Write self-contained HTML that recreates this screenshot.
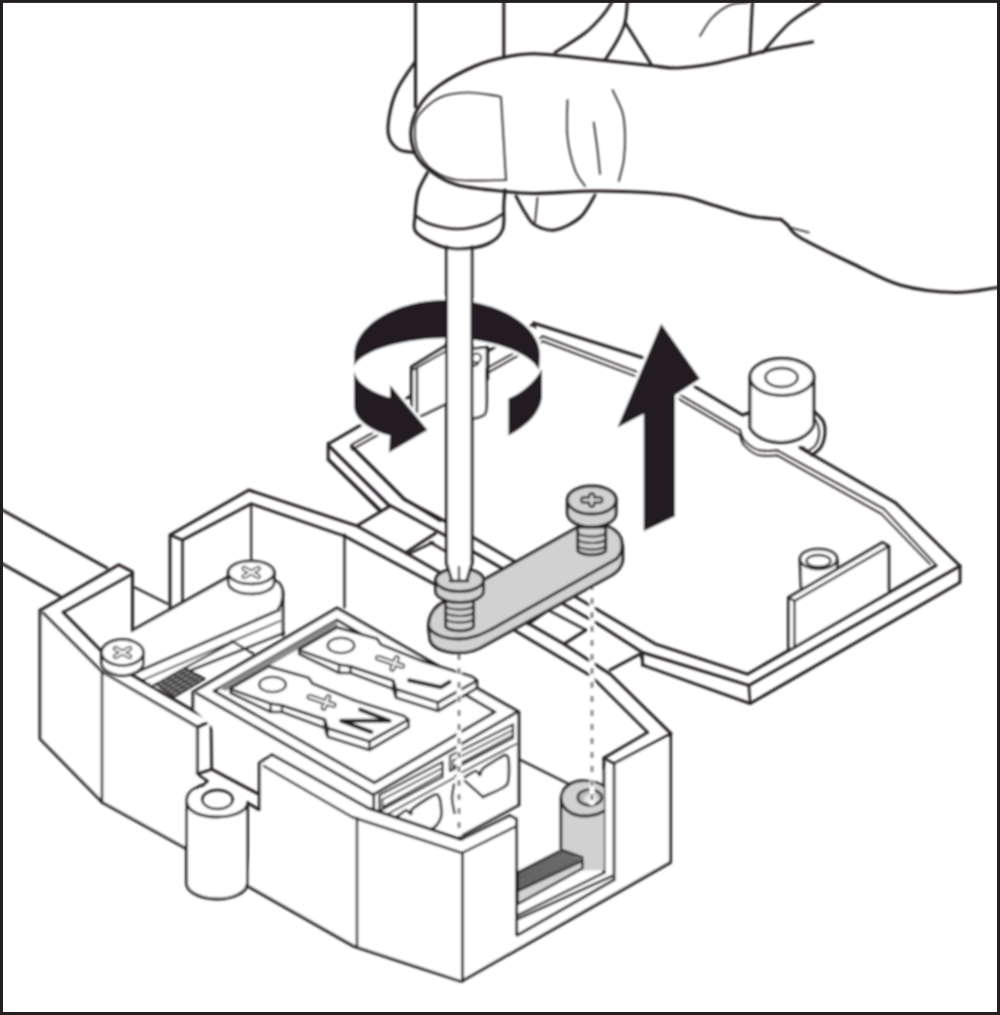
<!DOCTYPE html>
<html><head><meta charset="utf-8"><style>
html,body{margin:0;padding:0;background:#fff;}
svg{display:block;}
</style></head><body>
<svg width="1000" height="1015" viewBox="0 0 1000 1015">
<defs><filter id="bl" x="-1%" y="-1%" width="102%" height="102%"><feGaussianBlur stdDeviation="0.8"/></filter></defs>
<rect x="0" y="0" width="1000" height="1015" fill="#fff"/>
<g filter="url(#bl)">
<g stroke="#231f20" stroke-linecap="round" stroke-linejoin="round" fill="none">
<path d="M330.0,443.0 L535.0,323.5" stroke-width="2.92" fill="none" />
<path d="M535.0,323.5 L650.0,360.0 L742.5,415.0 L750.0,412.5" stroke-width="2.92" fill="none" />
<path d="M542.5,336.2 L648.0,376.0 L740.0,430.0" stroke-width="1.77" fill="none" />
<path d="M542.5,341.2 L648.0,381.0 L740.0,435.0" stroke-width="1.77" fill="none" />
<path d="M533.5,322.5 L535.0,327.5" stroke-width="2.50" fill="none" />
<path d="M328.2,443.2 L328.2,459.4" stroke-width="2.92" fill="none" />
<path d="M329.5,446.4 L388.0,504.9" stroke-width="2.50" fill="none" />
<path d="M328.2,459.4 L380.2,510.1" stroke-width="2.92" fill="none" />
<path d="M351.6,446.4 L403.6,498.4 L440.0,520.5" stroke-width="2.92" fill="none" />
<path d="M352.0,444.5 L542.0,337.0" stroke-width="1.77" fill="none" />
<path d="M352.0,449.5 L542.0,342.0" stroke-width="1.77" fill="none" />
<path d="M329.5,446.4 L388.7,504.7 L446.0,536.0 L598.0,624.0 L642.5,652.5 L748.8,685.4 L960.0,566.0" stroke-width="2.92" fill="none" />
<path d="M351.6,446.4 L404.3,499.5 L446.0,521.6 L598.0,610.0 L655.0,643.8 L747.4,674.2 L936.0,565.5" stroke-width="2.92" fill="none" />
<path d="M328.2,459.4 L379.6,510.6" stroke-width="2.92" fill="none" />
<path d="M642.5,665.0 L750.2,703.6 L960.0,582.5 L960.0,566.0" stroke-width="2.92" fill="none" />
<path d="M642.5,652.5 L642.5,665.0" stroke-width="2.50" fill="none" />
<path d="M748.8,685.4 L750.2,703.6" stroke-width="2.50" fill="none" />
<path d="M357.5,525.5 L390.0,506.0" stroke-width="2.92" fill="none" />
<path d="M405.6,552.8 L435.5,533.3" stroke-width="2.92" fill="none" />
<path d="M408.2,554.1 L432.9,542.4" stroke-width="2.50" fill="none" />
<path d="M430.3,542.4 L446.0,551.5" stroke-width="2.50" fill="none" />
<path d="M528.0,624.0 L548.0,610.0" stroke-width="2.92" fill="none" />
<path d="M564.0,644.0 L586.0,630.0" stroke-width="2.92" fill="none" />
<path d="M548.0,610.0 L586.0,630.0" stroke-width="2.50" fill="none" />
<path d="M610.0,670.0 L640.0,654.0" stroke-width="2.92" fill="none" />
<path d="M640.0,654.0 L644.0,666.0" stroke-width="2.08" fill="none" />
<path d="M800.0,447.5 L895.0,502.5" stroke-width="2.92" fill="none" />
<path d="M895.0,502.5 C896.7,504.1 894.2,501.4 905.0,512.0 C915.8,522.6 950.8,557.0 960.0,566.0" stroke-width="2.92" fill="none" />
<path d="M777.5,450.5 L884.0,509.0 L935.0,564.0" stroke-width="1.77" fill="none" />
<path d="M740.0,430.0 C740.7,431.7 741.0,436.7 744.0,440.0 C747.0,443.3 752.4,448.2 758.0,450.0 C763.6,451.8 774.2,450.4 777.5,450.5" stroke-width="1.77" fill="none" />
<path d="M777.5,455.5 L881.5,514.0 L930.0,564.0" stroke-width="1.77" fill="none" />
<path d="M740.0,435.0 C740.7,436.7 741.0,441.7 744.0,445.0 C747.0,448.3 752.4,453.2 758.0,455.0 C763.6,456.8 774.2,455.4 777.5,455.5" stroke-width="1.77" fill="none" />
<path d="M750,377 L750,427.5 C755,437 768,442.5 781,442.5 C795,442.5 809,436 813.75,425 L813.75,377 Z" fill="#fff" stroke="#231f20" stroke-width="2.92"/>
<ellipse cx="782" cy="377" rx="32" ry="18.5" fill="#fff" stroke="#231f20" stroke-width="2.92"/>
<ellipse cx="781.5" cy="377.5" rx="16" ry="9.5" fill="none" stroke="#231f20" stroke-width="2.50"/>
<path d="M813.8,411.0 C815.3,412.7 821.1,417.3 823.0,421.0 C824.9,424.7 825.3,428.7 825.0,433.0 C824.7,437.3 823.2,443.3 821.0,447.0 C818.8,450.7 813.5,453.7 812.0,455.0" stroke-width="2.92" fill="none" />
<path d="M802.5,447.5 L812.0,455.0" stroke-width="2.50" fill="none" />
<path d="M813.8,418.0 C814.5,419.2 817.1,422.0 818.0,425.0 C818.9,428.0 819.5,432.5 819.0,436.0 C818.5,439.5 817.2,443.3 815.0,446.0 C812.8,448.7 807.5,451.0 806.0,452.0" stroke-width="1.77" fill="none" />
<path d="M800,560 L801,587.5 L837,570 L837.5,561 Z" fill="#fff" stroke="none"/>
<path d="M800.0,560.0 L801.0,587.5" stroke-width="2.71" fill="none" />
<path d="M837.5,561.0 L837.0,570.0" stroke-width="2.71" fill="none" />
<ellipse cx="818.5" cy="559" rx="18.5" ry="10" fill="#fff" stroke="#231f20" stroke-width="2.71"/>
<ellipse cx="818.5" cy="561" rx="12" ry="6" fill="none" stroke="#231f20" stroke-width="2.29"/>
<path d="M788.5,597.5 L882.5,542.5 L888.75,546.25 L888.75,590 L788.5,649 Z" fill="#fff" stroke="none"/>
<path d="M788.5,649.0 L788.5,597.5 L882.5,542.5 L888.8,546.2 L888.8,590.0" stroke-width="2.92" fill="none" />
<path d="M788.5,597.5 L794.5,601.0 L888.8,546.2" stroke-width="2.29" fill="none" />
<path d="M794.5,601.0 L794.5,646.2" stroke-width="2.29" fill="none" />
<path d="M0.0,508.8 L107.0,568.0" stroke-width="2.92" fill="none" />
<path d="M0.0,562.5 L60.0,596.2" stroke-width="2.92" fill="none" />
<path d="M40.2,610.2 L118.8,564.7 L132.5,571.9 L132.5,631.0" stroke-width="2.92" fill="none" />
<path d="M63.6,612.2 L132.5,573.8" stroke-width="2.50" fill="none" />
<path d="M170.0,607.5 L170.0,535.0 L248.8,490.0 L357.5,526.2 L405.6,552.8 L564.0,644.0 L610.7,674.5 L671.0,733.6" stroke-width="2.92" fill="none" />
<path d="M170.0,535.0 L182.5,540.0 L182.5,602.5" stroke-width="2.50" fill="none" />
<path d="M182.5,540.0 L251.2,503.8 L345.0,536.2 L434.2,584.0 L514.0,630.0 L591.0,676.0 L647.6,732.4" stroke-width="2.71" fill="none" />
<path d="M251.2,503.8 L251.2,560.0" stroke-width="2.08" fill="none" />
<path d="M344.5,534.6 L344.5,607.5" stroke-width="2.29" fill="none" />
<path d="M135.0,587.5 L167.5,603.8" stroke-width="2.29" fill="none" />
<path d="M132.6,630.2 L228,577.1 L278.4,579.8 L282.9,590.6 L282.9,635.6 L154.2,690 L138,669.8 Z" fill="#fff" stroke="none"/>
<path d="M132.6,630.2 L228.0,577.1" stroke-width="2.92" fill="none" />
<path d="M268.0,577.0 C269.8,578.0 276.5,580.3 279.0,583.0 C281.5,585.7 282.6,589.5 282.9,593.0 C283.2,596.5 281.8,601.4 281.0,604.0 C280.2,606.6 278.8,607.8 278.4,608.6" stroke-width="2.71" fill="none" />
<path d="M138.0,671.5 L279.0,610.0" stroke-width="2.92" fill="none" />
<path d="M143.0,680.0 L280.0,621.0" stroke-width="1.87" fill="none" />
<path d="M154.2,685.0 L283.8,633.0" stroke-width="2.71" fill="none" />
<path d="M282.9,592.0 L282.9,635.6" stroke-width="2.71" fill="none" />
<path d="M184.8,668.0 L231.6,642.8" stroke-width="2.29" fill="none" />
<path d="M231.6,641.0 L253.2,653.6" stroke-width="2.29" fill="none" />
<path d="M156,684.2 L184.8,668 L204.6,678.8 L174,696.8 Z" fill="#808080" stroke="#231f20" stroke-width="2.08"/>
<path d="M159.6,686.7 L188.8,670.2" stroke-width="1.14" fill="none" />
<path d="M161.8,681.0 L180.1,693.2" stroke-width="1.14" fill="none" />
<path d="M163.2,689.2 L192.7,672.3" stroke-width="1.14" fill="none" />
<path d="M167.5,677.7 L186.2,689.6" stroke-width="1.14" fill="none" />
<path d="M166.8,691.8 L196.7,674.5" stroke-width="1.14" fill="none" />
<path d="M173.3,674.5 L192.4,686.0" stroke-width="1.14" fill="none" />
<path d="M170.4,694.3 L200.6,676.6" stroke-width="1.14" fill="none" />
<path d="M179.0,671.2 L198.5,682.4" stroke-width="1.14" fill="none" />
<path d="M228.2,572.5 L228.2,582.5 A23.0,11.5 0 0 0 274.2,582.5 L274.2,572.5 Z" fill="#fff" stroke="#231f20" stroke-width="2.71"/>
<ellipse cx="251.2" cy="572.5" rx="23.0" ry="11.5" fill="#fff" stroke="#231f20" stroke-width="2.71"/>
<path d="M244.2,568.5 L258.2,576.5 M244.2,576.5 L258.2,568.5" stroke="#231f20" stroke-width="5.23" stroke-linecap="round"/>
<path d="M244.2,568.5 L258.2,576.5 M244.2,576.5 L258.2,568.5" stroke="#fff" stroke-width="2.29" stroke-linecap="round"/>
<path d="M40,610 L40,738.75 L102.5,802.5 L186.5,848.75 L197.2,774.1 L197.2,727.2 L102,672 L43,613 Z" fill="#fff" stroke="none"/>
<path d="M40.0,610.0 L40.0,738.8 L102.5,802.5 L186.5,848.8" stroke-width="3.02" fill="none" />
<path d="M43.0,613.0 L102.0,672.0 L197.2,727.2" stroke-width="2.50" fill="none" />
<path d="M63.0,612.0 L115.0,665.0 L211.0,721.0" stroke-width="2.92" fill="none" />
<path d="M102.0,672.0 L102.0,802.5" stroke-width="2.50" fill="none" />
<path d="M197.2,727.2 L197.2,774.1 L211.7,769.3 L211.0,721.0 L197.2,727.2" stroke-width="2.71" fill="none" />
<path d="M101.5,652.5 L101.5,662.5 A21.0,13.0 0 0 0 143.5,662.5 L143.5,652.5 Z" fill="#fff" stroke="#231f20" stroke-width="2.71"/>
<ellipse cx="122.5" cy="652.5" rx="21.0" ry="13.0" fill="#fff" stroke="#231f20" stroke-width="2.71"/>
<path d="M115.5,648.5 L129.5,656.5 M115.5,656.5 L129.5,648.5" stroke="#231f20" stroke-width="5.23" stroke-linecap="round"/>
<path d="M115.5,648.5 L129.5,656.5 M115.5,656.5 L129.5,648.5" stroke="#fff" stroke-width="2.29" stroke-linecap="round"/>
<path d="M193,692 L337,608 L518.8,712 L518.8,805 L461,836 L374,812 L211,726 L193,708 Z" fill="#fff" stroke="none"/>
<path d="M193.0,708.0 L193.0,692.0 L337.0,608.0 L518.8,712.0 L518.8,804.8" stroke-width="3.02" fill="none" />
<path d="M197.0,693.5 L373.2,794.8 L517.2,712.0" stroke-width="2.92" fill="none" />
<path d="M214.0,691.0 L337.0,620.0 L494.8,712.0 L374.4,782.8 L214.0,691.0" stroke-width="2.92" fill="none" />
<path d="M373.8,794.8 L373.8,811.6" stroke-width="2.71" fill="none" />
<path d="M218,688 L336,620.5 L338,626 L226,691 Z" fill="#8a8a8a" stroke="none"/>
<path d="M379.5,795.0 L442.5,762.0 L442.5,777.0 L379.5,811.0Z" fill="#fff" stroke="#231f20" stroke-width="2.29"/>
<path d="M382.5,799.5 L442.5,768.0" stroke-width="1.66" fill="none" />
<path d="M382.5,807.0 L442.5,773.5" stroke-width="1.66" fill="none" />
<path d="M382.5,799.5 L382.5,807.0" stroke-width="1.66" fill="none" />
<path d="M384.0,816.0 L454.0,778.0" stroke-width="1.87" fill="none" />
<path d="M450.0,756.0 L513.0,724.5 L513.0,738.0 L450.0,771.0Z" fill="#fff" stroke="#231f20" stroke-width="2.29"/>
<path d="M453.0,760.5 L513.0,730.0" stroke-width="1.66" fill="none" />
<path d="M453.0,767.0 L513.0,735.0" stroke-width="1.66" fill="none" />
<path d="M453.0,760.5 L453.0,767.0" stroke-width="1.66" fill="none" />
<path d="M455.0,776.0 L516.0,744.0" stroke-width="1.87" fill="none" />
<path d="M396.0,817.5 C397.7,816.3 403.5,811.1 406.0,810.5 C408.5,809.9 409.8,814.3 411.0,814.0 C412.2,813.7 409.2,811.7 413.0,808.5 C416.8,805.3 429.7,796.9 434.0,795.0 C438.3,793.1 437.8,795.2 439.0,797.0 C440.2,798.8 440.7,802.7 441.0,806.0 C441.3,809.3 441.8,813.7 441.0,817.0 C440.2,820.3 438.2,823.7 436.0,826.0 C433.8,828.3 429.3,830.2 428.0,831.0" stroke-width="2.71" fill="none" />
<path d="M465.0,777.0 C466.8,776.0 473.5,771.3 476.0,771.0 C478.5,770.7 478.8,775.4 480.0,775.0 C481.2,774.6 479.5,771.5 483.0,768.5 C486.5,765.5 497.3,759.2 501.0,757.0 C504.7,754.8 503.8,754.7 505.0,755.0 C506.2,755.3 507.9,755.0 508.5,759.0 C509.1,763.0 509.2,774.3 508.5,779.0 C507.8,783.7 508.2,784.0 504.0,787.0 C499.8,790.0 486.5,795.3 483.0,797.0" stroke-width="2.71" fill="none" />
<path d="M465.0,781.0 L483.0,797.0" stroke-width="2.50" fill="none" />
<path d="M454.0,784.5 C453.7,786.8 451.9,793.2 452.0,798.0 C452.1,802.8 454.1,810.5 454.5,813.0" stroke-width="2.50" fill="none" />
<path d="M459.6,837.0 L518.8,805.0" stroke-width="2.92" fill="none" />
<path d="M299.2,649.2 L299.2,654.0 L339.1,673.0 L350.5,673.0 L393.2,689.1 L396.1,697.7 L437.9,711.0 L476.9,688.2 L476.9,680.6Z" fill="#fff" stroke="#231f20" stroke-width="2.71"/>
<path d="M299.2,649.2 L337.2,627.4 L377.1,638.8 L380.9,644.5 L420.8,660.6 L426.5,662.5 L472.1,676.8 L476.9,680.6 L437.9,702.5 L396.1,689.1 L393.2,680.6 L350.5,666.4 L339.1,664.5 L299.2,650.2Z" fill="#fff" stroke="#231f20" stroke-width="2.71"/>
<path d="M339.1,664.5 L339.1,673.0" stroke-width="2.29" fill="none" />
<path d="M350.5,666.4 L350.5,673.0" stroke-width="2.29" fill="none" />
<path d="M393.2,680.6 L393.2,689.1" stroke-width="2.29" fill="none" />
<path d="M396.1,689.1 L396.1,697.7" stroke-width="2.29" fill="none" />
<path d="M437.9,702.5 L437.9,711.0" stroke-width="2.29" fill="none" />
<ellipse cx="341.0" cy="645.5" rx="13.3" ry="7.6" fill="none" stroke="#231f20" stroke-width="2.29"/>
<path d="M387.0,660.9 L402.0,666.1 M392.2,668.7 L396.8,658.3 M378.0,657.9 L387.0,660.9" stroke="#231f20" stroke-width="5.86" stroke-linecap="round"/>
<path d="M387.0,660.9 L402.0,666.1 M392.2,668.7 L396.8,658.3 M378.0,657.9 L387.0,660.9" stroke="#fff" stroke-width="2.50" stroke-linecap="round"/>
<path d="M409.0,680.2 L440.8,687.2 L449.5,682.0" stroke-width="4.08" fill="none" />
<path d="M230.7,688.2 L230.7,693.0 L270.6,712.0 L282.0,712.0 L324.8,728.1 L327.6,736.7 L369.4,750.0 L408.4,727.2 L408.4,719.6Z" fill="#fff" stroke="#231f20" stroke-width="2.71"/>
<path d="M230.7,688.2 L268.7,666.4 L308.6,677.8 L312.4,683.5 L352.3,699.6 L358.0,701.5 L403.6,715.8 L408.4,719.6 L369.4,741.5 L327.6,728.1 L324.8,719.6 L282.0,705.4 L270.6,703.5 L230.7,689.2Z" fill="#fff" stroke="#231f20" stroke-width="2.71"/>
<path d="M270.6,703.5 L270.6,712.0" stroke-width="2.29" fill="none" />
<path d="M282.0,705.4 L282.0,712.0" stroke-width="2.29" fill="none" />
<path d="M324.8,719.6 L324.8,728.1" stroke-width="2.29" fill="none" />
<path d="M327.6,728.1 L327.6,736.7" stroke-width="2.29" fill="none" />
<path d="M369.4,741.5 L369.4,750.0" stroke-width="2.29" fill="none" />
<ellipse cx="272.5" cy="684.5" rx="13.3" ry="7.6" fill="none" stroke="#231f20" stroke-width="2.29"/>
<path d="M318.5,699.9 L333.5,705.1 M323.7,707.7 L328.3,697.3 M309.5,696.9 L318.5,699.9" stroke="#231f20" stroke-width="5.86" stroke-linecap="round"/>
<path d="M318.5,699.9 L333.5,705.1 M323.7,707.7 L328.3,697.3 M309.5,696.9 L318.5,699.9" stroke="#fff" stroke-width="2.50" stroke-linecap="round"/>
<path d="M360.1,709.6 L389.5,720.8 L341.2,720.8 L371.3,732.0" stroke-width="4.08" fill="none" />
<path d="M211.7,769.3 L257.2,793.4" stroke-width="2.92" fill="none" />
<path d="M199.3,775.5 L207.6,781.0 L202.8,785.2" stroke-width="2.50" fill="none" />
<path d="M259.3,810 L259.3,763.1 L271.9,754.5 L368,808 L461.5,840 L510,815.5 L670.5,737 L670.5,862.4 L461.5,984 L354,946.4 L246.8,885.6 Z" fill="#fff" stroke="none"/>
<path d="M247.6,803.1 L257.2,808.6 L259.3,810.0 L259.3,763.1 L271.9,754.5" stroke-width="2.92" fill="none" />
<path d="M186.5,801 L186.5,882 A30.5,16 0 0 0 247.5,884 L247.5,803 Z" fill="#fff" stroke="none"/>
<path d="M186.5,801 L186.5,882 A30.5,16 0 0 0 247.5,884 L247.5,803" stroke-width="2.92" fill="none" />
<path d="M202.8,785.2 C192,788 186.5,794 186.5,801 C186.5,811 200,817 217,817 C233,817 247.5,811 247.5,803" stroke-width="2.92" fill="none" />
<ellipse cx="217.5" cy="799.5" rx="15.2" ry="9.5" fill="none" stroke="#231f20" stroke-width="2.50"/>
<path d="M271.9,754.5 L368.0,808.0 L461.0,839.5 L510.0,815.5 L516.6,819.0" stroke-width="2.92" fill="none" />
<path d="M263.8,766.0 L352.0,817.0 L462.0,853.0 L516.6,826.0" stroke-width="2.50" fill="none" />
<path d="M357.0,818.0 L357.0,946.4" stroke-width="2.50" fill="none" />
<path d="M462.5,853.0 L462.5,981.6" stroke-width="2.92" fill="none" />
<path d="M246.8,885.6 L354.0,946.4 L461.2,981.6 L670.5,862.4 L670.5,733.6" stroke-width="3.02" fill="none" />
<path d="M516.6,819.0 L516.6,932.7" stroke-width="2.92" fill="none" />
<path d="M520.6,760.0 L569.2,784.3" stroke-width="2.29" fill="none" />
<path d="M647.6,732.4 L603.9,758.0" stroke-width="2.71" fill="none" />
<path d="M603.9,758.0 L614.1,763.7 L671.0,733.6" stroke-width="2.50" fill="none" />
<path d="M603.9,758.0 L603.9,872.3" stroke-width="2.92" fill="none" />
<path d="M614.1,763.7 L614.1,879.8" stroke-width="2.71" fill="none" />
<path d="M560.8,799 L560.8,848 L582.3,870.4 L603.9,870 L603.9,784 C597,781 590,780.6 584,780.6 C570,780.6 560.8,789 560.8,799 Z" fill="#d1d1d1" stroke="none"/>
<path d="M560.8,799.0 L560.8,848.0" stroke-width="2.92" fill="none" />
<path d="M560.8,799 C560.8,789 570,780.6 584,780.6 C592,780.6 600,783 603.9,786" stroke-width="2.92" fill="none" />
<path d="M560.8,799 C562,809 572,816 584,816 C592,816 599,814 603.9,811" stroke-width="2.92" fill="none" />
<ellipse cx="589.8" cy="797.4" rx="12" ry="8" fill="#bdbdbd" stroke="#231f20" stroke-width="2.50"/>
<ellipse cx="591" cy="799" rx="7" ry="4.5" fill="#e6e6e6" stroke="none"/>
<path d="M517.8,872.3 L561.8,849.8 L582.3,857.3 L582.3,868.5 L517.8,904 Z" fill="#9a9a9a" stroke="#231f20" stroke-width="2.29"/>
<path d="M517.8,891 L582.3,861 L582.3,868.5 L517.8,904 Z" fill="#d1d1d1" stroke="#231f20" stroke-width="2.08"/>
<path d="M517.8,874.6 L564.4,851.2" stroke-width="1.14" fill="none" />
<path d="M517.8,877.0 L566.9,852.6" stroke-width="1.14" fill="none" />
<path d="M517.8,879.3 L569.5,854.0" stroke-width="1.14" fill="none" />
<path d="M517.8,881.6 L572.0,855.4" stroke-width="1.14" fill="none" />
<path d="M517.8,884.0 L574.6,856.8" stroke-width="1.14" fill="none" />
<path d="M517.8,886.3 L577.2,858.2" stroke-width="1.14" fill="none" />
<path d="M517.8,888.7 L579.7,859.6" stroke-width="1.14" fill="none" />
<path d="M517.8,915.3 L604.8,872.3" stroke-width="2.50" fill="none" />
<path d="M517.8,919.0 L612.3,876.0" stroke-width="2.50" fill="none" />
<path d="M517.8,935.0 L614.1,879.8" stroke-width="2.92" fill="none" />
<path d="M516.6,820.0 L516.6,935.0" stroke-width="2.92" fill="none" />
<path d="M459.0,640.0 L459.0,836.0" stroke="#fff" stroke-width="5.13" stroke-linecap="butt"/>
<path d="M459.0,640.0 L459.0,836.0" stroke="#6a6a6a" stroke-width="2.71" stroke-dasharray="6,8" stroke-linecap="butt"/>
<path d="M592.0,570.0 L592.0,805.0" stroke="#fff" stroke-width="5.13" stroke-linecap="butt"/>
<path d="M592.0,570.0 L592.0,805.0" stroke="#6a6a6a" stroke-width="2.71" stroke-dasharray="6,8" stroke-linecap="butt"/>
<path d="M410.4,365.7 L445.6,345.9 L445.6,404.2 L420.3,416.3 L411.5,406.4 Z" fill="#fff" stroke="none"/>
<path d="M411.5,406.4 L411.5,366.8 L445.6,346.0" stroke-width="3.13" fill="none" />
<path d="M417.0,369.0 L417.0,412.0" stroke-width="2.50" fill="none" />
<path d="M413.7,369.5 L445.6,351.4" stroke-width="2.08" fill="none" />
<path d="M420.3,416.3 L445.6,404.2" stroke-width="2.50" fill="none" />
<path d="M472,349 L487.4,347 L487.4,410 C486,415 482,416.3 472,418.5 Z" fill="#fff" stroke="none"/>
<path d="M472.0,349.2 L486.3,347.0" stroke-width="2.29" fill="none" />
<path d="M487.4,347.0 L487.4,379.0" stroke-width="3.34" fill="none" />
<path d="M486.3,369.0 C486.3,375.6 487.2,400.7 486.3,408.6 C485.4,416.5 483.2,414.7 480.8,416.3 C478.4,417.9 473.5,418.1 472.0,418.5" stroke-width="2.50" fill="none" />
<path d="M472.0,366.8 L478.0,364.0" stroke-width="2.08" fill="none" />
<circle cx="476.5" cy="358" r="4.5" fill="none" stroke="#231f20" stroke-width="1.98"/>
<path d="M354,356 A93,56 0 0 1 540,356 L539,370 C530,352 490,338 447,338 C405,338 362,350 354,366 Z" fill="#231f20" stroke="#fff" stroke-width="5.65" paint-order="stroke"/>
<path d="M354,371 C356,382 370,392 390,397.5 L390,385 L427.5,430 L389,452.5 L390,435.5 C368,430 354,418 354,405 Z" fill="#231f20" stroke="#fff" stroke-width="5.65" paint-order="stroke"/>
<path d="M542,369 C535,382 522,393 508.5,398.5 L508.5,435.5 C527,426 541,412 542,396 Z" fill="#231f20" stroke="#fff" stroke-width="5.65" paint-order="stroke"/>
<path d="M446.5,247 L446.5,563 L451.3,579 L467.3,579 L472,563 L472,247 Z" fill="#fff" stroke="none"/>
<path d="M446.5,247.0 L446.5,563.0" stroke-width="2.92" fill="none" />
<path d="M472.0,247.0 L472.0,563.0" stroke-width="2.92" fill="none" />
<path d="M446,601 L578,527 C598,519 616,527 621,538 L622.7,547 L622.7,561 C621,568 618,571 612,575 L480,648 C472,652 465,653 458,653 C442,652 432,647 430,640 L428.5,628 C428,614 436,605 446,601 Z" fill="#d1d1d1" stroke="#231f20" stroke-width="3.02"/>
<path d="M428.6,626 C431,634 444,639 459,639 C472,639 482,634 492,629" stroke-width="2.81" fill="none" />
<path d="M492.0,629.0 L616.8,558.7" stroke-width="2.81" fill="none" />
<path d="M616.8,558.7 C617.5,557.6 620.1,554.1 621.0,552.0 C621.9,549.9 621.8,547.0 622.0,546.0" stroke-width="2.81" fill="none" />
<path d="M445.6,600.0 L445.6,626.0 A14.0,4.9 0 0 0 473.6,626.0 L473.6,600.0 Z" fill="#d1d1d1" stroke="#231f20" stroke-width="2.92"/>
<path d="M445.6,606.0 A14.0,4.2 0 0 0 473.6,604.5" stroke-width="2.08" fill="none" />
<path d="M445.6,612.5 A14.0,4.2 0 0 0 473.6,611.0" stroke-width="2.08" fill="none" />
<path d="M445.6,619.0 A14.0,4.2 0 0 0 473.6,617.5" stroke-width="2.08" fill="none" />
<path d="M435.6,580.0 L435.6,591.0 A24.0,11.5 0 0 0 483.6,591.0 L483.6,580.0 Z" fill="#d1d1d1" stroke="#231f20" stroke-width="2.92"/>
<ellipse cx="459.6" cy="580.0" rx="24.0" ry="11.5" fill="#d1d1d1" stroke="#231f20" stroke-width="2.92"/>
<path d="M577.7,527.0 L577.7,550.0 A14.0,4.9 0 0 0 605.7,550.0 L605.7,527.0 Z" fill="#d1d1d1" stroke="#231f20" stroke-width="2.92"/>
<path d="M577.7,533.0 A14.0,4.2 0 0 0 605.7,531.5" stroke-width="2.08" fill="none" />
<path d="M577.7,539.5 A14.0,4.2 0 0 0 605.7,538.0" stroke-width="2.08" fill="none" />
<path d="M577.7,546.0 A14.0,4.2 0 0 0 605.7,544.5" stroke-width="2.08" fill="none" />
<path d="M567.3,500.0 L567.3,513.0 A24.4,14.0 0 0 0 616.1,513.0 L616.1,500.0 Z" fill="#d1d1d1" stroke="#231f20" stroke-width="2.92"/>
<ellipse cx="591.7" cy="500.0" rx="24.4" ry="14.0" fill="#d1d1d1" stroke="#231f20" stroke-width="2.92"/>
<path d="M583.7,500.0 L599.7,500.0 M591.7,496.0 L591.7,504.0" stroke="#231f20" stroke-width="7.33" stroke-linecap="round"/>
<path d="M583.7,500.0 L599.7,500.0 M591.7,496.0 L591.7,504.0" stroke="#d1d1d1" stroke-width="3.13" stroke-linecap="round"/>
<path d="M446.5,560 L451.3,579 L467.3,579 L472,560 Z" fill="#fff" stroke="none"/>
<path d="M446.5,558.0 L446.5,563.0 L451.3,579.0" stroke-width="2.92" fill="none" />
<path d="M472.0,558.0 L472.0,563.0 L467.3,579.0" stroke-width="2.92" fill="none" />
<path d="M459.0,567.0 L459.0,579.0" stroke-width="2.29" fill="none" />
<path d="M450.0,581.0 L468.0,581.0" stroke-width="2.71" fill="none" />
<path d="M661.25,323.75 L700,378.75 L675,395 L675,516.25 L643.75,531.25 L643.75,413.75 L617.5,427.5 Z" fill="#231f20" stroke="#fff" stroke-width="5.65" paint-order="stroke"/>
<path d="M415.5,0.0 L415.5,107.0" stroke-width="3.02" fill="none" />
<path d="M503.8,0.0 L503.8,57.0" stroke-width="3.02" fill="none" />
<path d="M415.0,62.0 C412.2,66.3 402.2,79.7 398.0,88.0 C393.8,96.3 391.6,104.2 390.0,112.0 C388.4,119.8 387.2,128.8 388.5,135.0 C389.8,141.2 393.9,146.1 398.0,149.0 C402.1,151.9 410.5,151.9 413.0,152.5" stroke-width="3.02" fill="none" />
<path d="M812.5,42.0 C806.2,43.1 785.4,46.6 775.0,48.8 C764.6,50.9 760.4,52.5 750.0,55.0 C739.6,57.5 724.6,61.6 712.5,63.8 C700.4,65.9 687.9,67.7 677.5,68.0 C667.1,68.3 662.9,66.8 650.0,65.5 C637.1,64.2 619.2,62.0 600.0,60.0 C580.8,58.0 551.0,54.2 535.0,53.8 C519.0,53.3 513.8,55.5 503.8,57.5 C493.8,59.5 485.6,61.4 475.0,66.0 C464.4,70.6 449.2,78.5 440.0,85.0 C430.8,91.5 424.8,97.5 420.0,105.0 C415.2,112.5 411.7,121.7 411.0,130.0 C410.3,138.3 412.4,147.9 416.0,155.0 C419.6,162.1 425.6,167.5 432.5,172.5 C439.4,177.5 446.2,181.9 457.5,185.0 C468.8,188.1 487.1,189.6 500.0,191.0 C512.9,192.4 518.3,193.5 535.0,193.5 C551.7,193.5 576.7,190.8 600.0,191.0 C623.3,191.2 656.2,192.7 675.0,195.0 C693.8,197.3 700.0,201.5 712.5,205.0 C725.0,208.5 738.6,213.6 750.0,216.0 C761.4,218.4 775.8,218.9 781.0,219.5" stroke-width="3.13" fill="none" />
<path d="M781.0,219.5 C782.1,220.4 784.3,222.0 787.5,225.0 C790.7,228.0 789.6,231.2 800.0,237.5 C810.4,243.8 833.3,254.6 850.0,262.5 C866.7,270.4 882.5,280.0 900.0,285.0 C917.5,290.0 938.8,292.1 955.0,292.5 C971.2,292.9 990.4,288.3 997.5,287.5" stroke-width="3.13" fill="none" />
<path d="M790.0,227.5 L808.8,232.5" stroke-width="1.66" fill="none" />
<path d="M555.0,52.5 C560.0,49.2 577.0,39.2 585.0,33.0 C593.0,26.8 598.5,20.2 603.0,15.0 C607.5,9.8 610.5,4.2 612.0,2.0" stroke-width="2.92" fill="none" />
<path d="M605.0,60.0 C607.1,56.7 614.2,46.2 617.5,40.0 C620.8,33.8 623.3,29.2 625.0,22.5 C626.7,15.8 627.1,3.8 627.5,0.0" stroke-width="2.92" fill="none" />
<path d="M625.0,22.5 L651.0,64.0" stroke-width="2.92" fill="none" />
<path d="M700.0,36.0 C702.0,33.0 707.0,23.2 712.0,18.0 C717.0,12.8 724.0,7.6 730.0,5.0 C736.0,2.4 745.0,2.9 748.0,2.5" stroke-width="1.66" fill="none" />
<path d="M752.5,2.5 C752.2,7.1 751.4,21.4 751.0,30.0 C750.6,38.6 750.2,50.0 750.0,54.0" stroke-width="2.92" fill="none" />
<path d="M762.5,52.5 C767.1,47.5 780.4,30.8 790.0,22.5 C799.6,14.2 815.0,5.8 820.0,2.5" stroke-width="2.92" fill="none" />
<path d="M567.5,100.0 C567.5,106.2 566.2,125.8 567.5,137.5 C568.8,149.2 572.1,161.9 575.0,170.0 C577.9,178.1 583.3,183.3 585.0,186.0" stroke-width="1.66" fill="none" />
<path d="M593.8,122.5 C594.4,127.1 596.5,141.4 597.5,150.0 C598.5,158.6 599.6,170.0 600.0,174.0" stroke-width="1.66" fill="none" />
<path d="M612.5,90.0 C614.2,93.8 620.4,105.0 622.5,112.5 C624.6,120.0 624.8,127.1 625.0,135.0 C625.2,142.9 624.8,152.3 623.8,160.0 C622.7,167.7 619.6,177.5 618.8,181.0" stroke-width="1.66" fill="none" />
<path d="M497.5,96.0 C492.5,95.4 477.1,92.2 467.5,92.5 C457.9,92.8 448.1,93.8 440.0,97.5 C431.9,101.2 422.9,109.6 418.8,115.0 C414.6,120.4 415.2,124.2 415.0,130.0 C414.8,135.8 414.6,143.3 417.5,150.0 C420.4,156.7 425.8,165.0 432.5,170.0 C439.2,175.0 445.2,178.3 457.5,180.0 C469.8,181.7 497.9,180.0 506.0,180.0" stroke-width="1.66" fill="none" />
<path d="M497.5,96.0 L501.0,97.0 L506.0,180.0" stroke-width="1.66" fill="none" />
<path d="M427.5,172.5 C425.9,175.8 420.1,184.6 418.0,192.0 C415.9,199.4 415.3,210.3 415.0,217.0 C414.7,223.7 412.2,227.3 416.0,232.0 C419.8,236.7 430.3,242.2 437.5,245.0 C444.7,247.8 450.7,249.2 459.0,249.0 C467.3,248.8 480.2,247.2 487.5,244.0 C494.8,240.8 499.8,236.5 502.5,230.0 C505.2,223.5 503.3,211.7 503.8,205.0 C504.2,198.3 504.8,192.5 505.0,190.0" stroke-width="3.02" fill="none" />
<path d="M416.0,216.0 C418.3,217.3 423.1,221.8 430.0,224.0 C436.9,226.2 448.3,229.0 457.5,229.0 C466.7,229.0 477.5,226.5 485.0,224.0 C492.5,221.5 499.6,215.7 502.5,214.0" stroke-width="2.50" fill="none" />
<path d="M516.0,196.0 C517.5,198.8 521.8,207.7 525.0,212.5 C528.2,217.3 530.0,222.1 535.0,225.0 C540.0,227.9 547.5,231.2 555.0,230.0 C562.5,228.8 573.3,223.3 580.0,217.5 C586.7,211.7 592.5,198.8 595.0,195.0" stroke-width="3.02" fill="none" />
<path d="M537.5,197.5 C537.1,201.7 535.4,218.3 535.0,222.5" stroke-width="1.66" fill="none" />
</g>
</g>
<rect x="1.5" y="1.4" width="997" height="1012.1" fill="none" stroke="#231f20" stroke-width="3"/>
</svg>
</body></html>
